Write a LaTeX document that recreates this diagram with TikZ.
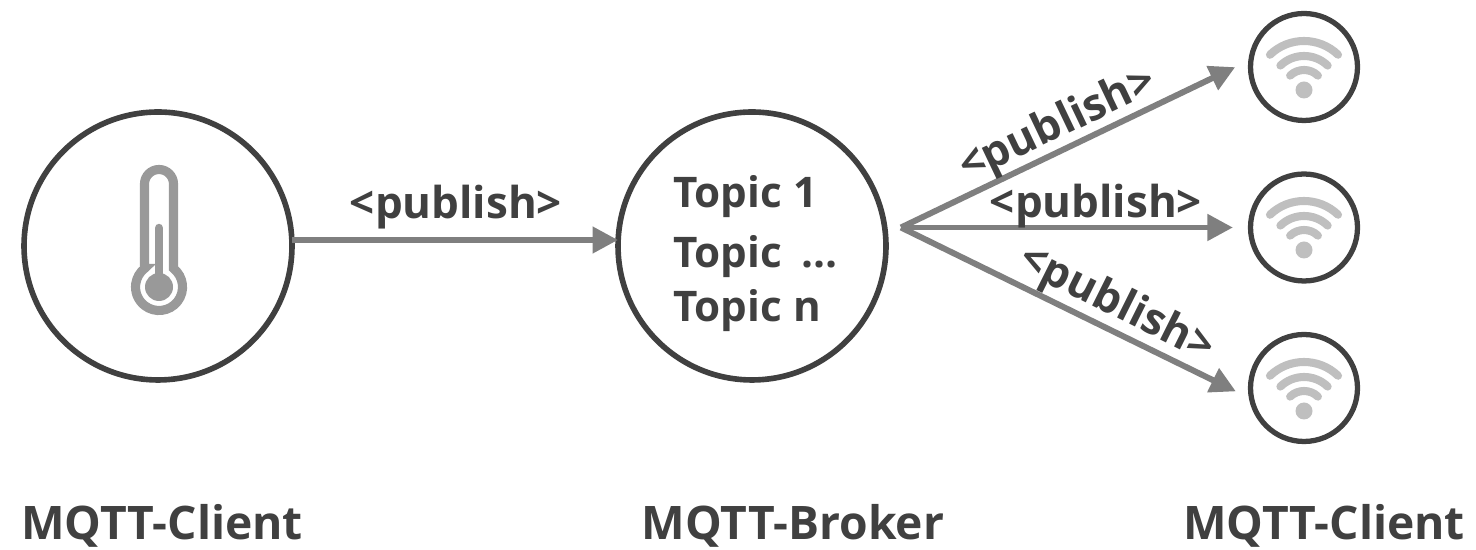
\documentclass[tikz,border=0pt]{standalone}
\usepackage{fontspec}
\setmainfont{Open Sans}
\usetikzlibrary{arrows.meta}
\definecolor{ringgray}{HTML}{404040}
\definecolor{arrowgray}{HTML}{7F7F7F}
\definecolor{thermogray}{HTML}{999999}
\definecolor{wifigray}{HTML}{BFBFBF}
\tikzset{
  bigring/.style={circle, draw=ringgray, line width=3.2pt, minimum size=5.36cm, inner sep=0pt, outer sep=0pt},
  smallring/.style={circle, draw=ringgray, line width=3pt, minimum size=2.14cm, inner sep=0pt, outer sep=0pt},
  flow/.style={draw=arrowgray, line width=3.4pt, -{Triangle[length=14.5pt,width=14.5pt]}},
  fan/.style={flow, shorten >=10pt},
  txt/.style={text=ringgray, font=\fontsize{25}{29}\selectfont\bfseries, inner sep=0pt},
  topic/.style={txt, font=\fontsize{24}{28}\selectfont\bfseries, anchor=west},
  title/.style={text=ringgray, font=\fontsize{26.3}{30}\selectfont\bfseries, inner sep=0pt},
}
\begin{document}
\begin{tikzpicture}[x=0.02cm, y=0.02cm]
\useasboundingbox (0,0) rectangle (1476,550);
% circles
\node[bigring] (client) at (158,304) {};
\node[bigring] (broker) at (752,304) {};
\node[smallring] (wifiA) at (1304,483) {};
\node[smallring] (wifiB) at (1304,322.5) {};
\node[smallring] (wifiC) at (1304,162) {};
\coordinate (feedline) at (456,310);
\coordinate (fanout) at (901,322.5);
% arrows
\draw[flow] (client.east |- feedline) -- (broker.west |- feedline);
\draw[fan] (fanout) -- (wifiA.172);
\draw[fan] (fanout) -- (wifiB.west);
\draw[fan] (fanout) -- (wifiC.192);
% labels
\node[txt] (pubA) at (456,343) {<publish>};
\node[txt, rotate=25.5] (pubB) at (1058,424) {<publish>};
\node[txt] (pubC) at (1096,344) {<publish>};
\node[txt, rotate=-26.5] (pubD) at (1116,245) {<publish>};
\node[topic] (topicA) at (673,353) {Topic 1};
\node[topic] (topicB) at (673,293) {Topic\hspace{5pt} …};
\node[topic] (topicC) at (673,239) {Topic n};
\node[title] (nameA) at (162,24) {MQTT-Client};
\node[title] (nameB) at (793,24) {MQTT-Broker};
\node[title] (nameC) at (1324,24) {MQTT-Client};
% thermometer
\draw[thermogray, line width=5.2pt] (144.5,281.5) -- (144.5,366) arc (180:0:14.5) -- (173.5,281.5) arc (52:-232:23.5) -- cycle;
\fill[thermogray] (159,263) circle (14);
\draw[thermogray, line width=4.8pt, line cap=round] (159,263) -- (159,322);
% wifi
\foreach \wy in {460,300,139} {
  \fill[wifigray] (1304,\wy) circle (8.5);
  \foreach \wr/\wa in {49/46,34/46,20/46} {
    \draw[wifigray, line width=4.6pt, line cap=round] (1304,\wy) ++(\wa:\wr) arc (\wa:180-\wa:\wr);
  }
}
\end{tikzpicture}
\end{document}
